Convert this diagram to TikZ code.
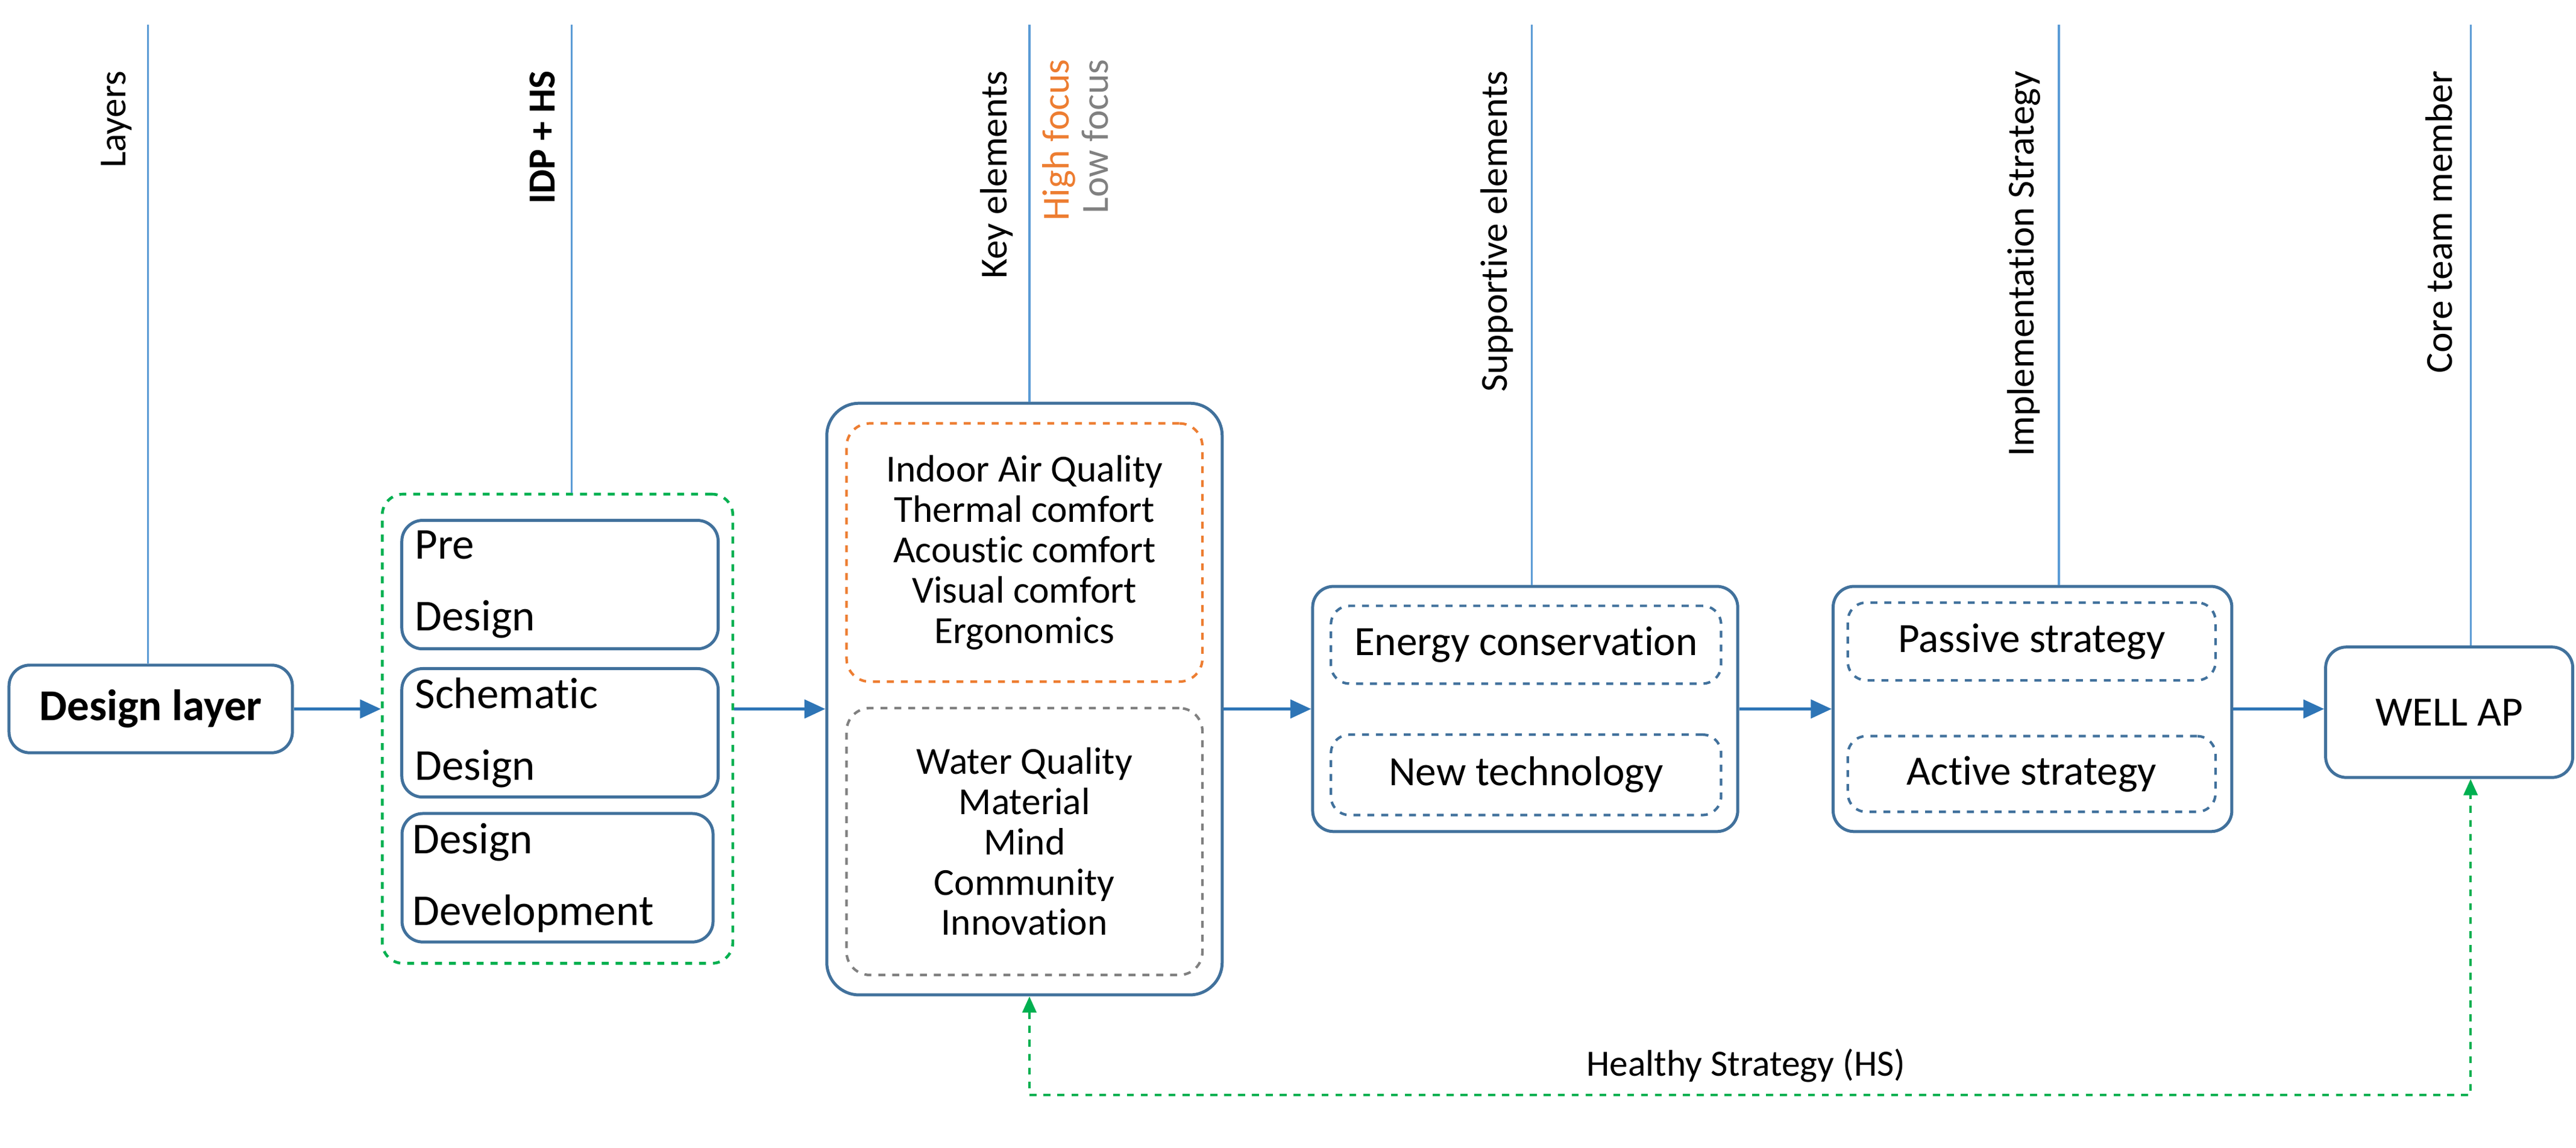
\documentclass[tikz,border=0pt]{standalone}
\usepackage{fontspec}
\setmainfont{Carlito}[Ligatures=NoCommon]
\usetikzlibrary{arrows.meta}
\definecolor{bx}{RGB}{65,113,156}
\definecolor{ln}{RGB}{91,155,213}
\definecolor{ar}{RGB}{46,117,182}
\definecolor{gr}{RGB}{0,176,80}
\definecolor{orng}{RGB}{237,125,49}
\definecolor{gry}{RGB}{128,128,128}
\begin{document}
\begin{tikzpicture}[x=0.025cm,y=-0.025cm,
  box/.style={draw=bx,line width=1.3pt,rounded corners=9pt,inner sep=0pt,align=center,font=\fontsize{19}{23}\selectfont},
  dbox/.style={draw=bx,line width=1.1pt,dashed,rounded corners=8pt,inner sep=0pt,font=\fontsize{18}{20}\selectfont},
  lst/.style={draw,line width=1.1pt,dashed,rounded corners=10pt,inner sep=0pt,align=center,font=\fontsize{16.5}{17.4}\selectfont},
  vl/.style={draw=ln,line width=0.8pt},
  vt/.style={rotate=90,anchor=south east,inner sep=2pt,font=\fontsize{16.5}{17}\selectfont},
  flow/.style={draw=ar,line width=1.2pt,-{Triangle[length=9pt,width=8pt]}},
  hs/.style={draw=gr,line width=1.1pt,dashed,{Triangle[length=7pt,width=6pt]}-{Triangle[length=7pt,width=6pt]}}]
\useasboundingbox (0,0) rectangle (1564,697);
% top lines
\coordinate (t1) at (90,15); \coordinate (t2) at (347,15); \coordinate (t3) at (625,15);
\coordinate (t4) at (930,15); \coordinate (t5) at (1250,15); \coordinate (t6) at (1500,15);
% boxes
\node[box,font=\fontsize{19}{23}\selectfont\bfseries,minimum width=4.3cm,minimum height=1.33cm] (dl) at (91.5,430.5) {Design layer};
\node[draw=gr,line width=1.2pt,dashed,rounded corners=9pt,minimum width=5.32cm,minimum height=7.12cm] (idp) at (338.5,442.5) {};
\node[box,align=left,text width=4.4cm,minimum width=4.8cm,minimum height=1.95cm,font=\fontsize{19}{31}\selectfont] (pre) at (340,355) {Pre\\Design};
\node[box,align=left,text width=4.4cm,minimum width=4.8cm,minimum height=1.95cm,font=\fontsize{19}{31}\selectfont] (sch) at (340,445) {Schematic\\Design};
\node[box,align=left,text width=4.4cm,minimum width=4.72cm,minimum height=1.95cm,font=\fontsize{19}{31}\selectfont] (dd) at (338.5,533) {Design\\Development};
\node[box,rounded corners=14pt,minimum width=6cm,minimum height=8.98cm] (key) at (622,424.5) {};
\node[lst,draw=orng,minimum width=5.4cm,minimum height=3.92cm] (hi) at (622,335.5) {Indoor Air Quality\\Thermal comfort\\Acoustic comfort\\Visual comfort\\Ergonomics};
\node[lst,draw=gry,minimum width=5.4cm,minimum height=4.05cm] (lo) at (622,511) {Water Quality\\Material\\Mind\\Community\\Innovation};
\node[box,minimum width=6.45cm,minimum height=3.72cm] (sup) at (926,430.5) {};
\node[dbox,minimum width=5.92cm,minimum height=1.18cm] (en) at (926.5,391.5) {Energy conservation};
\node[dbox,minimum width=5.92cm,minimum height=1.22cm] (nt) at (926.5,470.5) {New technology};
\node[box,minimum width=6.05cm,minimum height=3.72cm] (imp) at (1234,430.5) {};
\node[dbox,minimum width=5.58cm,minimum height=1.18cm] (pas) at (1233.5,389.5) {Passive strategy};
\node[dbox,minimum width=5.58cm,minimum height=1.15cm] (act) at (1233.5,470) {Active strategy};
\node[box,font=\fontsize{18}{20}\selectfont,minimum width=3.75cm,minimum height=1.98cm] (well) at (1487,432.5) {WELL AP};
% vertical lines and labels
\draw[vl] (t1) -- (dl.north -| t1);
\draw[vl] (t2) -- (idp.north -| t2);
\draw[vl] (t3) -- (key.north -| t3);
\draw[vl] (t4) -- (sup.north -| t4);
\draw[vl] (t5) -- (imp.north -| t5);
\draw[vl] (t6) -- (well.north -| t6);
\node[vt] (l1) at (83,40) {Layers};
\node[vt,font=\fontsize{16.5}{17}\selectfont\bfseries] (l2) at (340,40) {IDP + HS};
\node[vt] (l3) at (618,40) {Key elements};
\node[vt,text=orng] (l3a) at (656,33) {High focus};
\node[vt,text=gry] (l3b) at (676,33) {Low focus};
\node[vt] (l4) at (922,40) {Supportive elements};
\node[vt] (l5) at (1242,40) {Implementation Strategy};
\node[vt] (l6) at (1492,40) {Core team member};
% flow arrows
\draw[flow] (dl.east) -- (dl.east -| idp.west);
\draw[flow] (idp.east |- dl.east) -- (key.west |- dl.east);
\draw[flow] (key.east |- dl.east) -- (sup.west |- dl.east);
\draw[flow] (sup.east) -- (imp.west);
\draw[flow] (imp.east) -- (imp.east -| well.west);
% healthy strategy
\coordinate (c1) at (625,665); \coordinate (c2) at (1500,665);
\draw[hs] (key.south -| c1) -- (c1) -- (c2) -- (well.south -| c2);
\node[font=\fontsize{16}{20}\selectfont] (hsl) at (1060,647) {Healthy Strategy (HS)};
\end{tikzpicture}
\end{document}
